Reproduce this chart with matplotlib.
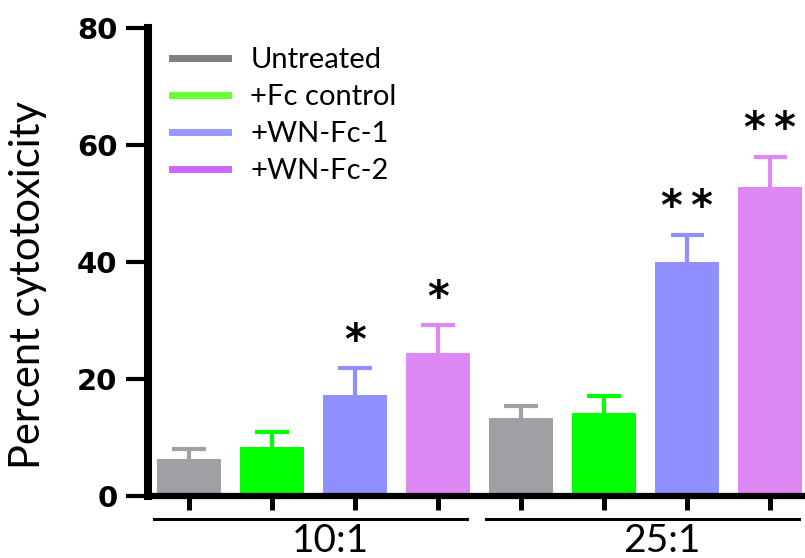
import matplotlib
matplotlib.use('Agg')
import matplotlib.pyplot as plt
from matplotlib.lines import Line2D
import matplotlib.transforms as mtransforms
import numpy as np

# データ
groups = ['10:1', '25:1']
treatments = ['Untreated', '+Fc control', '+WN-Fc-1', '+WN-Fc-2']
vals_10 = [6.4, 8.3, 17.3, 24.4]
err_10 = [1.7, 2.7, 4.6, 4.8]
vals_25 = [13.4, 14.2, 40.0, 52.9]
err_25 = [1.9, 2.9, 4.7, 5.1]
stars_10 = ['', '', '*', '*']
stars_25 = ['', '', '*\u2009*', '*\u2009*']

bar_colors = ['#A0A0A4', '#00FF00', '#8F8FFF', '#DD88F5']
legend_colors = ['#808080', '#66FF33', '#9999FF', '#CC66FF']

fig = plt.figure(figsize=(8.05, 5.58), dpi=100)
ax = fig.add_axes([148 / 805, 1 - 496 / 558, 1 - 148 / 805, 468 / 558])

values = vals_10 + vals_25
errors = err_10 + err_25
stars = stars_10 + stars_25
colors = bar_colors * 2
x = np.arange(len(values))

ax.bar(x, values, width=0.77, color=colors, zorder=2)
# 上側だけのエラーバー
for xi, v, e, c, s in zip(x, values, errors, colors, stars):
    ax.plot([xi, xi], [v, v + e], color=c, lw=3, zorder=1, solid_capstyle='butt')
    ax.plot([xi - 0.2, xi + 0.2], [v + e, v + e], color=c, lw=3, zorder=1,
            solid_capstyle='butt')
    if s:
        ax.text(xi, v + e + 4.5, s, ha='center', va='center',
                fontsize=30, fontweight='bold', family='DejaVu Sans')

ax.set_xlim(-0.494, 7.42)
ax.set_ylim(0, 80)
ax.set_yticks([0, 20, 40, 60, 80])
ax.set_xticks(x)
ax.set_xticklabels([])

for sp in ['top', 'right']:
    ax.spines[sp].set_visible(False)
ax.spines['left'].set_linewidth(5.8)
ax.spines['bottom'].set_linewidth(4.5)
ax.tick_params(axis='y', length=16, width=3, pad=6, labelsize=21)
ax.tick_params(axis='x', length=10, width=3.6)
for lab in ax.get_yticklabels():
    lab.set_fontweight('bold')
    lab.set_family('DejaVu Sans')

# グループの線とラベル
trans = mtransforms.blended_transform_factory(ax.transData, ax.transAxes)
for gi, g in enumerate(groups):
    xs = x[gi * 4:(gi + 1) * 4]
    ax.plot([xs[0] - 0.42, xs[-1] + 0.35], [-0.049, -0.049], color='black',
            lw=2.2, transform=trans, clip_on=False)
    ax.text(xs.mean() + 0.2, -0.058, g, transform=trans, ha='center', va='top',
            fontsize=28, family='Lato')

fig.text(28 / 805, 1 - 285 / 558, 'Percent cytotoxicity', rotation=90,
         ha='center', va='center', fontsize=30, family='Lato')

handles = [Line2D([0], [0], color=c, lw=5) for c in legend_colors]
fig.legend(handles, treatments, loc='upper left',
           bbox_to_anchor=(172 / 805, 1 - 47 / 558), frameon=False,
           prop={'family': 'Lato', 'size': 21}, handlelength=1.93,
           handletextpad=0.75, labelspacing=0.38, borderpad=0, borderaxespad=0)

plt.savefig('out.png', dpi=100)
